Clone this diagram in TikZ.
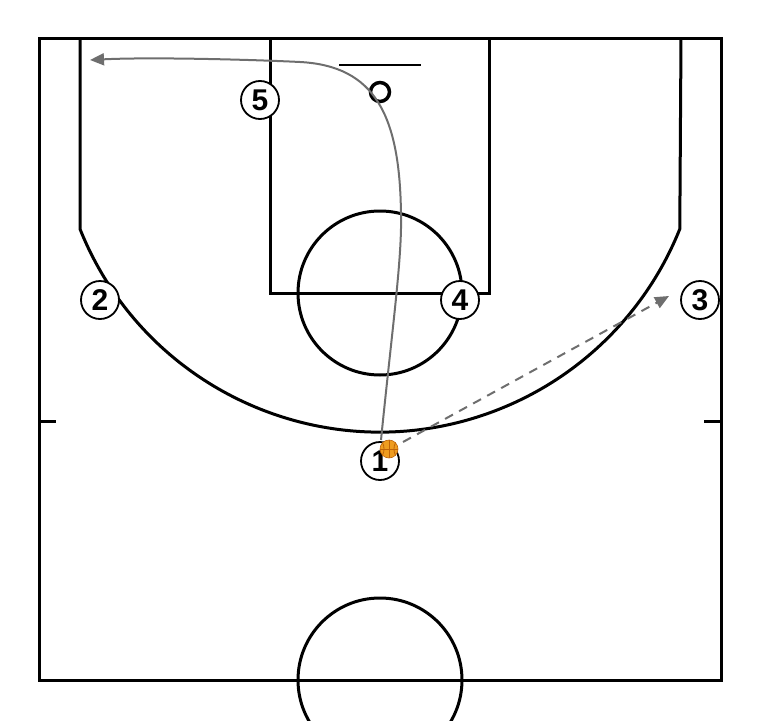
\documentclass[tikz,border=0pt]{standalone}
\usepackage{fontspec}
\setmainfont{Liberation Sans}
\usetikzlibrary{arrows.meta}
\definecolor{pathgray}{RGB}{110,110,110}
\definecolor{ballorange}{RGB}{238,156,32}
\definecolor{seam}{RGB}{190,100,10}
\tikzset{
  court/.style={line width=3pt, black},
  player/.style={circle, draw=black, line width=1.8pt, fill=white, minimum size=38pt, inner sep=0pt, font=\fontsize{30}{30}\selectfont\bfseries},
  cut/.style={line width=2pt, pathgray, -{Triangle[length=14pt,width=12pt]}},
  pass/.style={line width=2pt, pathgray, dash pattern=on 9pt off 7pt, -{Triangle[length=14pt,width=12pt]}}
}
\begin{document}
\begin{tikzpicture}[x=1pt,y=-1pt]
\useasboundingbox (0,0) rectangle (760,720);
\begin{scope}
\clip (0,0) rectangle (760,720);
% outer court
\draw[court] (39,38) rectangle (721,680);
% key
\draw[court] (270,38) -- (270,293) -- (489,293) -- (489,38);
% free throw circle
\draw[court] (380,293) circle[radius=82];
% three point line
\draw[court] (80,38) -- (80,229) arc[start angle=-158.2, end angle=-21.8, x radius=323, y radius=-323] -- (681,38);
% ticks
\draw[court] (39,421) -- (56,421);
\draw[court] (704,421) -- (721,421);
% backboard and rim
\draw[line width=2pt] (339,65) -- (421,65);
\draw[line width=3.5pt] (380,92) circle[radius=9.5];
% half court circle
\draw[court] (380,680) circle[radius=82];
\end{scope}
% players
\node[player] (p5) at (260,100) {5};
\node[player] (p2) at (100,300) {2};
\node[player] (p4) at (460,300) {4};
\node[player] (p3) at (700,300) {3};
\node[player] (p1) at (380,461) {1};
\coordinate (cutend) at (90,60);
\coordinate (passend) at (669,296);
% cut path
\draw[cut] (381,440) .. controls (392,330) and (402,260) .. (401,215)
  .. controls (400,115) and (375,66) .. (300,62)
  .. controls (250,59.5) and (150,57) .. (cutend);
% pass
\draw[pass] (403,442) -- (passend);
% ball
\node[circle, fill=ballorange, draw=seam, line width=0.6pt, minimum size=18pt, inner sep=0pt] (ball) at (389,449) {};
\draw[seam, line width=0.8pt] (ball.north west) to[bend left=25] (ball.south west);
\draw[seam, line width=0.8pt] (ball.north east) to[bend right=25] (ball.south east);
\draw[seam, line width=0.8pt] (ball.west) -- (ball.east);
\draw[seam, line width=0.8pt] (ball.north) -- (ball.south);
\end{tikzpicture}
\end{document}
